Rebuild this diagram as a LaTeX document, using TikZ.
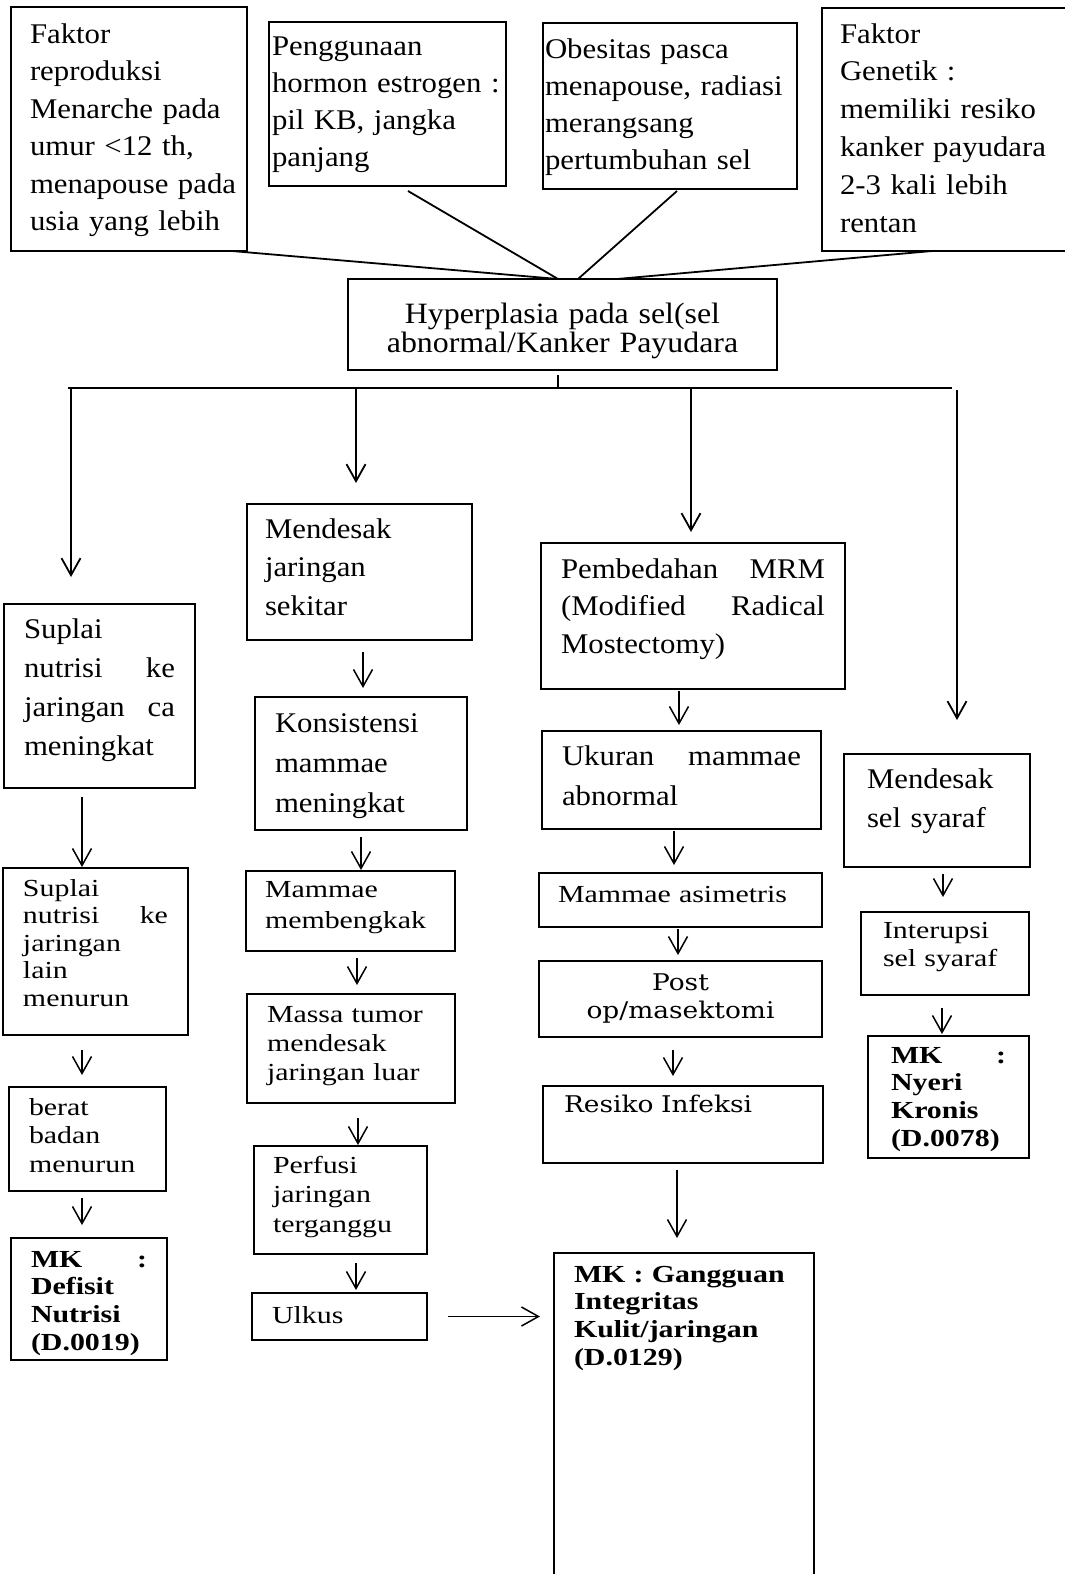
\documentclass[tikz,border=0pt]{standalone}
\usepackage{fontspec}
\setmainfont{Liberation Serif}[FakeStretch=1.08]
\newfontfamily\lowfont{Liberation Serif}[FakeStretch=1.22]
\newfontfamily\camfont{DejaVu Serif}[FakeStretch=1.15]
\usetikzlibrary{arrows.meta}

\tikzset{
  box/.style={draw, line width=1.6pt, anchor=north west, inner ysep=0pt, outer sep=0pt, align=left},
  wh/.style n args={4}{inner xsep=#1pt, text width=#2pt, text height=#3pt, text depth=#4pt},
  up/.style={font=\fontsize{28.5}{#1}\selectfont}, up/.default=38,
  low/.style={font=\lowfont\fontsize{24.5}{#1}\selectfont}, low/.default=28.5,
  mk/.style={font=\lowfont\bfseries\fontsize{24.5}{27.7}\selectfont},
  cam/.style={font=\camfont\fontsize{23}{28}\selectfont},
  link/.style={line width=1.8pt},
  arr/.style={line width=1.5pt, -{Straight Barb[length=17pt,width=19pt]}},
}

\begin{document}
\begin{tikzpicture}[x=1pt, y=-1pt]
    \useasboundingbox (0,0) rectangle (1065,1574);

    % --- faktor penyebab ---
    \node[box, up=37.5, wh={19}{198}{36}{208}] (faktor) at (11,7) {Faktor\\reproduksi\\Menarche~pada\\umur <12 th,\\menapouse~pada\\usia yang lebih};
    \node[box, up=37.3, wh={3}{231}{33}{131}] (hormon) at (269,22) {Penggunaan\\hormon estrogen :\\pil KB, jangka\\panjang};
    \node[box, up=37.3, wh={2}{250}{35}{131}] (obesitas) at (543,23) {Obesitas pasca\\menapouse, radiasi\\merangsang\\pertumbuhan sel};
    \node[box, up=37.8, wh={18}{217}{35}{208}] (genetik) at (822,8) {Faktor\\Genetik :\\memiliki resiko\\kanker payudara\\2-3 kali lebih\\rentan};

    \node[box, align=center, font=\fontsize{29.5}{29}\selectfont, wh={10}{409}{44}{47}] (hyper) at (348,279) {Hyperplasia pada sel(sel\\abnormal/Kanker Payudara};

    \draw[link] ([xshift=-15pt]faktor.south east) -- ([xshift=-4.5pt]hyper.north);
    \draw[link] ([xshift=20.5pt,yshift=-5pt]hormon.south) -- ([xshift=-4.5pt]hyper.north);
    \draw[link] ([xshift=7pt,yshift=-2pt]obesitas.south) -- ([xshift=15.5pt]hyper.north);
    \draw[link] ([xshift=110pt]genetik.south west) -- ([xshift=54.5pt]hyper.north);

    % --- cabang ---
    \coordinate (stem) at (558,388);
    \coordinate (barL) at (68,388);
    \coordinate (barR) at (952,388);
    \coordinate (br1) at (71,388);
    \coordinate (br2) at (356,388);
    \coordinate (br3) at (691,388);
    \coordinate (br4) at (957,390);
    \draw[link] ([xshift=-4.5pt,yshift=-5pt]hyper.south) -- (stem);
    \draw[link] (barL) -- (barR);

    % --- kolom 1: nutrisi ---
    \node[box, up=39, wh={20}{151}{34}{150}] (suplaiA) at (4,604) {Suplai\\nutrisi\hfill ke\\jaringan\hfill ca\\meningkat};
    \node[box, low=27.5, wh={20}{145}{28}{139}] (suplaiB) at (3,868) {Suplai\\nutrisi\hfill ke\\jaringan\\lain\\menurun};
    \node[box, low, wh={20}{117}{28}{76}] (berat) at (9,1087) {berat\\badan\\menurun};
    \node[box, mk, wh={20}{116}{29}{93}] (defisit) at (11,1238) {MK\hfill :\\Defisit\\Nutrisi\\(D.0019)};

    % --- kolom 2: jaringan ---
    \node[box, up=38.5, wh={18}{189}{34}{102}] (desakJar) at (247,504) {Mendesak\\jaringan\\sekitar};
    \node[box, up=40, wh={20}{172}{35}{98}] (konsist) at (255,697) {Konsistensi\\mammae\\meningkat};
    \node[box, low=31, wh={19}{171}{26}{54}] (bengkak) at (246,871) {Mammae\\membengkak};
    \node[box, low=29, wh={20}{168}{28}{81}] (massa) at (247,994) {Massa tumor\\mendesak\\jaringan luar};
    \node[box, low=29.5, wh={19}{135}{27}{81}] (perfusi) at (254,1146) {Perfusi\\jaringan\\terganggu};
    \node[box, low, wh={20}{135}{30}{17}] (ulkus) at (252,1293) {Ulkus};

    % --- kolom 3: pembedahan ---
    \node[box, up=37.5, wh={20}{264}{35}{111}] (mrm) at (541,543) {Pembedahan\hfill MRM\\(Modified\hfill Radical\\Mostectomy)};
    \node[box, up=40, wh={20}{239}{34}{64}] (ukuran) at (542,731) {Ukuran\hfill mammae\\abnormal};
    \node[box, low, wh={19}{245}{29}{25}] (asimetris) at (539,873) {Mammae asimetris};
    \node[box, cam, align=center, wh={10}{263}{29}{47}] (postop) at (539,961) {Post\\op/masektomi};
    \node[box, cam, wh={21}{238}{26}{51}] (resiko) at (543,1086) {Resiko Infeksi};
    \node[box, mk, wh={20}{220}{29}{308}] (gangguan) at (554,1253) {MK : Gangguan\\Integritas\\Kulit/jaringan\\(D.0129)};

    % --- kolom 4: syaraf ---
    \node[box, up=39, wh={23}{140}{34}{79}] (desakSyaraf) at (844,754) {Mendesak\\sel syaraf};
    \node[box, low, wh={22}{124}{26}{57}] (interupsi) at (861,912) {Interupsi\\sel syaraf};
    \node[box, mk, wh={23}{115}{27}{95}] (nyeri) at (868,1036) {MK\hfill :\\Nyeri\\Kronis\\(D.0078)};

    % --- panah cabang ---
    \draw[arr, line width=1.8pt] (br1) -- ([yshift=27pt]br1 |- suplaiA.north);
    \draw[arr, line width=1.8pt] (br2) -- ([yshift=21pt]br2 |- desakJar.north);
    \draw[arr, line width=1.8pt] (br3) -- ([yshift=11pt]br3 |- mrm.north);
    \draw[arr, line width=1.8pt] (br4) -- ([yshift=34pt]br4 |- desakSyaraf.north);

    % --- panah antar kotak ---
    \draw[arr] ([xshift=78pt,yshift=-9pt]suplaiA.south west) -- ([xshift=79pt,yshift=1pt]suplaiB.north west);
    \draw[arr] ([xshift=79pt,yshift=-15pt]suplaiB.south west) -- ([xshift=73pt,yshift=12pt]berat.north west);
    \draw[arr] ([xshift=73pt,yshift=-7pt]berat.south west) -- ([xshift=71pt,yshift=13pt]defisit.north west);

    \draw[arr] ([xshift=116pt,yshift=-12pt]desakJar.south west) -- ([xshift=108pt,yshift=9pt]konsist.north west);
    \draw[arr] ([xshift=106pt,yshift=-7pt]konsist.south west) -- ([xshift=115pt,yshift=1pt]bengkak.north west);
    \draw[arr] ([xshift=111pt,yshift=-7pt]bengkak.south west) -- ([xshift=110pt,yshift=9pt]massa.north west);
    \draw[arr] ([xshift=111pt,yshift=-15pt]massa.south west) -- ([xshift=104pt,yshift=1pt]perfusi.north west);
    \draw[arr] ([xshift=102pt,yshift=-9pt]perfusi.south west) -- ([xshift=104pt,yshift=3pt]ulkus.north west);
    \draw[arr] ([xshift=21pt]ulkus.east) -- ([xshift=-14pt]ulkus.east -| gangguan.west);

    \draw[arr] ([xshift=138pt,yshift=-2pt]mrm.south west) -- ([xshift=137pt,yshift=6pt]ukuran.north west);
    \draw[arr] ([xshift=132pt,yshift=-2pt]ukuran.south west) -- ([xshift=135pt,yshift=8pt]asimetris.north west);
    \draw[arr] ([xshift=139pt,yshift=-2pt]asimetris.south west) -- ([xshift=139pt,yshift=6pt]postop.north west);
    \draw[arr] ([xshift=134pt,yshift=-13pt]postop.south west) -- ([xshift=130pt,yshift=10pt]resiko.north west);
    \draw[arr] ([xshift=134pt,yshift=-7pt]resiko.south west) -- ([xshift=123pt,yshift=15pt]gangguan.north west);

    \draw[arr] ([xshift=99pt,yshift=-7pt]desakSyaraf.south west) -- ([xshift=82pt,yshift=15pt]interupsi.north west);
    \draw[arr] ([xshift=81pt,yshift=-13pt]interupsi.south west) -- ([xshift=74pt,yshift=2pt]nyeri.north west);
\end{tikzpicture}
\end{document}
